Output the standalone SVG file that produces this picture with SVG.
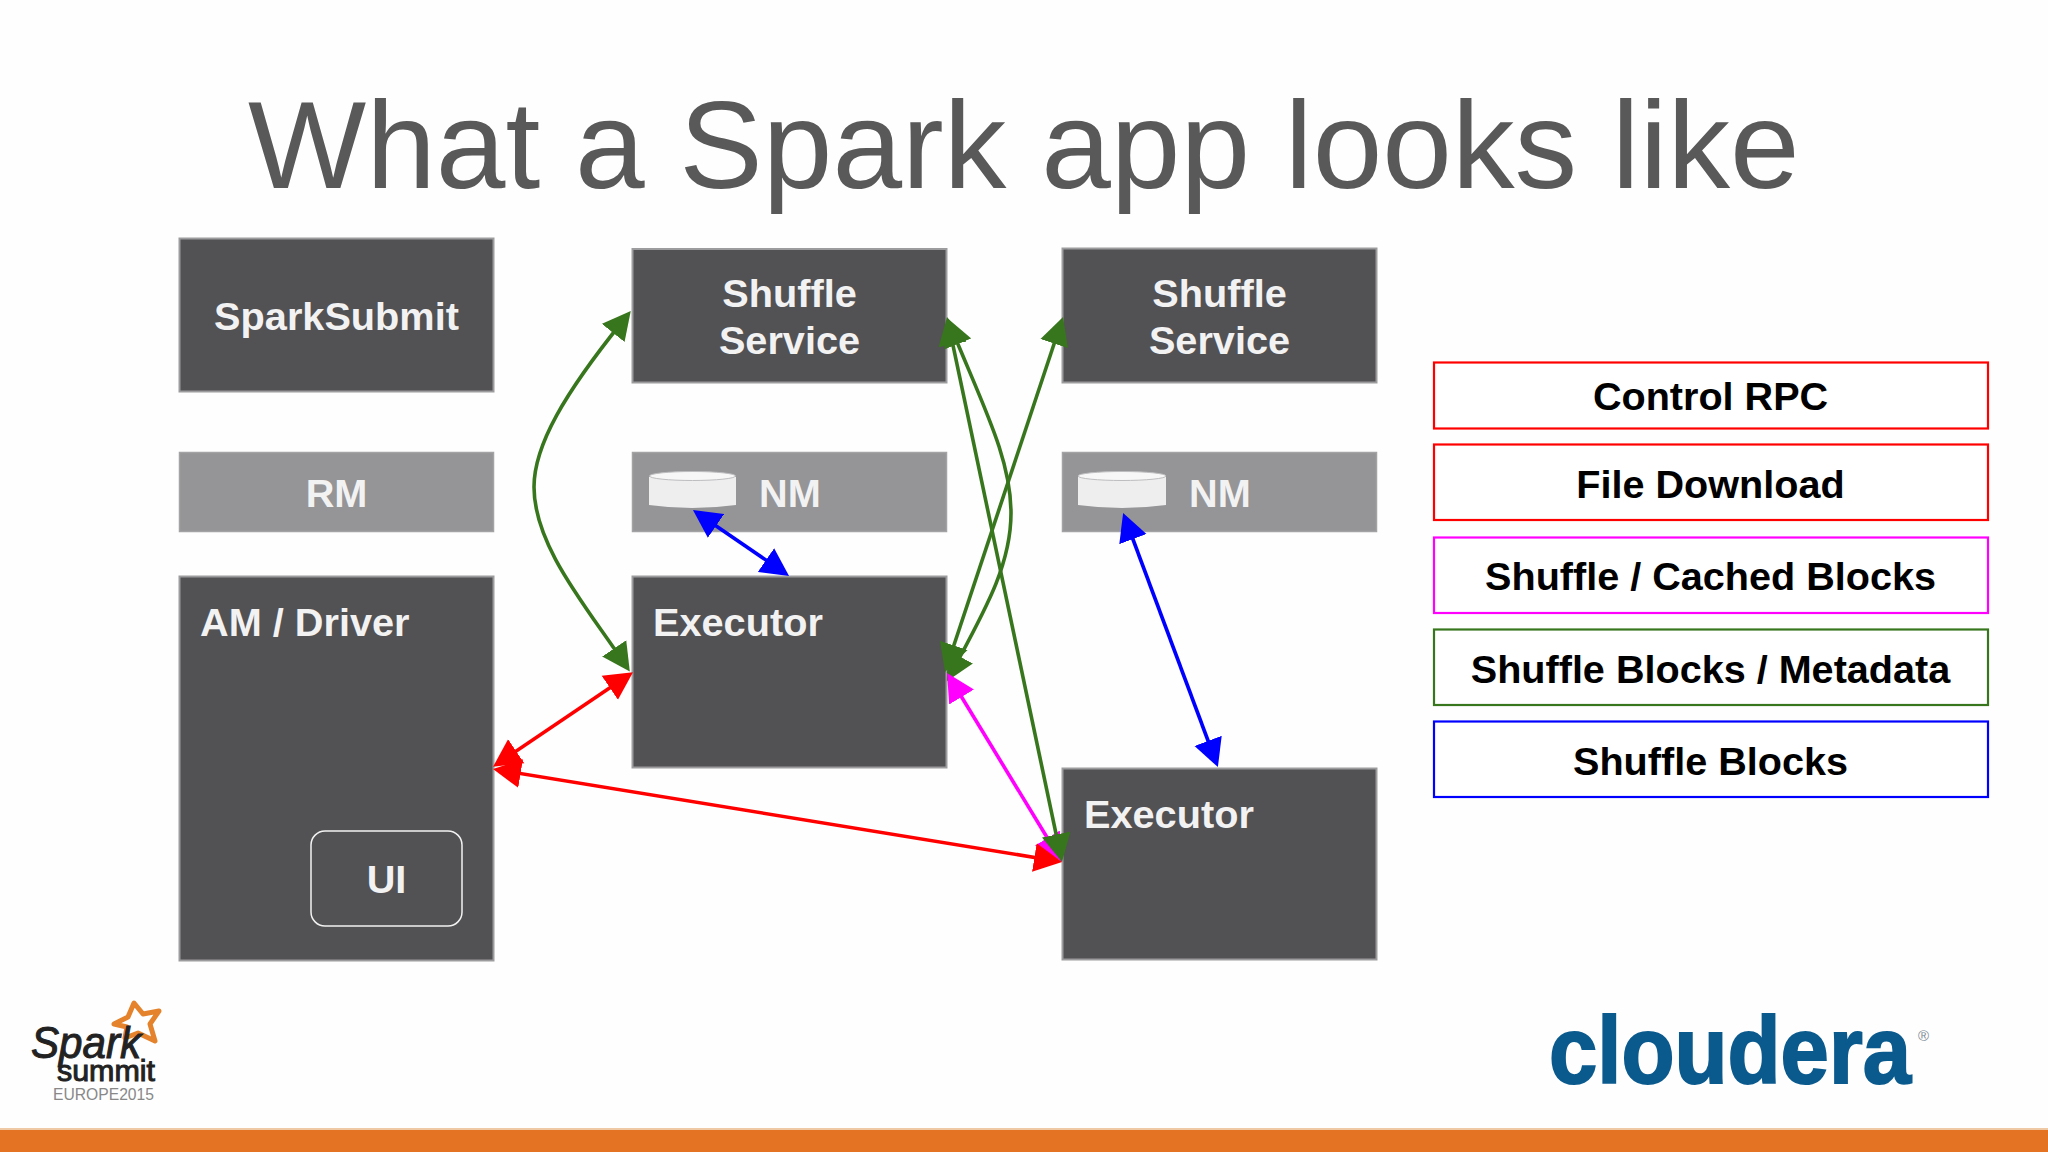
<svg xmlns="http://www.w3.org/2000/svg" width="2048" height="1152" viewBox="0 0 2048 1152">
<style>
text{font-family:"Liberation Sans",Arial,sans-serif}
.box{fill:#525153;stroke:#9c9b9d;stroke-width:2}
.lite{fill:#959496;stroke:#a3a2a4;stroke-width:1.500}
.t{font-size:39.700px;font-weight:700;fill:#f2f2f3}
.m{text-anchor:middle}
.leg{fill:#fff;stroke-width:2.200}
.lt{font-size:39.600px;font-weight:700;fill:#000;text-anchor:middle}
.c{fill:none;stroke-width:3.600}
.disk{fill:#eeeeef}
.disktop{fill:#f7f7f8;stroke:#bdbcbe;stroke-width:1}
</style>
<defs>
<marker id="hb" markerUnits="userSpaceOnUse" markerWidth="30" markerHeight="30" refX="14" refY="15" orient="auto-start-reverse" viewBox="0 0 30 30"><path d="M0,0.500L28,15L0,29.500z" fill="#0000ff"/></marker>
<marker id="hr" markerUnits="userSpaceOnUse" markerWidth="30" markerHeight="30" refX="14" refY="15" orient="auto-start-reverse" viewBox="0 0 30 30"><path d="M0,0.500L28,15L0,29.500z" fill="#ff0000"/></marker>
<marker id="hm" markerUnits="userSpaceOnUse" markerWidth="30" markerHeight="30" refX="14" refY="15" orient="auto-start-reverse" viewBox="0 0 30 30"><path d="M0,0.500L28,15L0,29.500z" fill="#ff00ff"/></marker>
<marker id="hg" markerUnits="userSpaceOnUse" markerWidth="30" markerHeight="30" refX="14" refY="15" orient="auto-start-reverse" viewBox="0 0 30 30"><path d="M0,0.500L28,15L0,29.500z" fill="#38761d"/></marker>
</defs>
<rect width="2048" height="1152" fill="#fefefe"/>
<rect y="1130" width="2048" height="22" fill="#e57324"/>
<rect y="1128" width="2048" height="2" fill="#efc9a5"/>
<text x="248" y="188" font-size="125.200" fill="#595959">What a Spark app looks like</text>

<g id="spark-submit"><rect class="box" x="179.500" y="238.500" width="314" height="153"/><text class="t m" x="336.500" y="329.500">SparkSubmit</text></g>
<g id="shuffle-service-1"><rect class="box" x="632.500" y="249" width="314" height="133.500"/><text class="t m" x="789.500" y="307">Shuffle</text><text class="t m" x="789.500" y="354">Service</text></g>
<g id="shuffle-service-2"><rect class="box" x="1062.500" y="248.500" width="314" height="134"/><text class="t m" x="1219.500" y="307">Shuffle</text><text class="t m" x="1219.500" y="354">Service</text></g>
<g id="rm"><rect class="lite" x="179.500" y="452.500" width="314" height="79"/><text class="t m" x="336.500" y="507">RM</text></g>
<g id="nm-1"><rect class="lite" x="632.500" y="452.500" width="314" height="79"/>
<path class="disk" d="M649,477V505Q692,511 736,505V477z"/><ellipse class="disktop" cx="692.500" cy="476" rx="43" ry="4.500"/><text class="t" x="759" y="507">NM</text></g>
<g id="nm-2"><rect class="lite" x="1062.500" y="452.500" width="314" height="79"/>
<path class="disk" d="M1078,477V505Q1122,511 1166,505V477z"/><ellipse class="disktop" cx="1122" cy="476" rx="44" ry="4.500"/><text class="t" x="1189" y="507">NM</text></g>
<g id="am-driver"><rect class="box" x="179.500" y="576.500" width="314" height="384"/><text class="t" x="200" y="636">AM / Driver</text></g>
<g id="ui"><rect x="311" y="831" width="151" height="95" rx="14" fill="#525153" stroke="#f2f2f3" stroke-width="1.500"/><text class="t m" x="386.500" y="893">UI</text></g>
<g id="executor-1"><rect class="box" x="632.500" y="576.500" width="314" height="191"/><text class="t" x="653" y="636">Executor</text></g>
<g id="executor-2"><rect class="box" x="1062.500" y="768.500" width="314" height="191"/><text class="t" x="1084" y="828">Executor</text></g>

<g id="legend-control-rpc"><rect class="leg" x="1434" y="362.500" width="554" height="66" stroke="#ff0000"/><text class="lt" x="1710.500" y="410">Control RPC</text></g>
<g id="legend-file-download"><rect class="leg" x="1434" y="444.500" width="554" height="75.500" stroke="#ff0000"/><text class="lt" x="1710.500" y="497.500">File Download</text></g>
<g id="legend-shuffle-cached"><rect class="leg" x="1434" y="537.500" width="554" height="75.500" stroke="#ff00ff"/><text class="lt" x="1710.500" y="590">Shuffle / Cached Blocks</text></g>
<g id="legend-shuffle-metadata"><rect class="leg" x="1434" y="629.500" width="554" height="75.500" stroke="#38761d"/><text class="lt" x="1710.500" y="683">Shuffle Blocks / Metadata</text></g>
<g id="legend-shuffle-blocks"><rect class="leg" x="1434" y="721.500" width="554" height="75.500" stroke="#0000ff"/><text class="lt" x="1710.500" y="774.500">Shuffle Blocks</text></g>

<g id="connectors">
<path class="c" stroke="#38761d" marker-start="url(#hg)" marker-end="url(#hg)" d="M622,322C565,393 534,445 534,487C534,545 585,605 622,660"/>
<path class="c" stroke="#38761d" marker-start="url(#hg)" marker-end="url(#hg)" d="M1058.600,330.300L949.400,658.700"/>
<path class="c" stroke="#38761d" marker-start="url(#hg)" marker-end="url(#hg)" d="M952.500,331C985,410 1011,460 1011,513C1011,565 985,610 953.500,669"/>
<path class="c" stroke="#ff00ff" marker-start="url(#hm)" marker-end="url(#hm)" d="M954.300,685L1054.700,850"/>
<path class="c" stroke="#ff0000" marker-start="url(#hr)" marker-end="url(#hr)" d="M506.800,771.300L1048.200,859.700"/>
<path class="c" stroke="#38761d" marker-start="url(#hg)" marker-end="url(#hg)" d="M949.900,330.700L1059.100,848.300"/>
<path class="c" stroke="#ff0000" marker-start="url(#hr)" marker-end="url(#hr)" d="M621.400,680L504.600,759"/>
<path class="c" stroke="#0000ff" marker-start="url(#hb)" marker-end="url(#hb)" d="M704.500,518L777.500,568"/>
<path class="c" stroke="#0000ff" marker-start="url(#hb)" marker-end="url(#hb)" d="M1128,526L1213,754"/>
</g>

<path d="M134,1003L143,1014L159,1011L150,1024L155,1041L138,1033L125,1038L127,1027L114,1024L128,1017z" fill="#fff" stroke="#e5832c" stroke-width="5" stroke-linejoin="round"/>
<text x="31" y="1058" font-size="44" font-style="italic" fill="#222" stroke="#222" stroke-width="1" textLength="110" lengthAdjust="spacingAndGlyphs">Spark</text>
<text x="57" y="1081" font-size="30" fill="#222" stroke="#222" stroke-width="1" textLength="98" lengthAdjust="spacingAndGlyphs">summit</text>
<text x="53" y="1100" font-size="17" fill="#888" textLength="101" lengthAdjust="spacingAndGlyphs">EUROPE2015</text>
<text x="1549" y="1083" font-size="94" font-weight="700" fill="#0b5a8e" stroke="#0b5a8e" stroke-width="2" textLength="362" lengthAdjust="spacingAndGlyphs">cloudera</text>
<text x="1918" y="1041" font-size="15" fill="#7d8a95">®</text>
</svg>
